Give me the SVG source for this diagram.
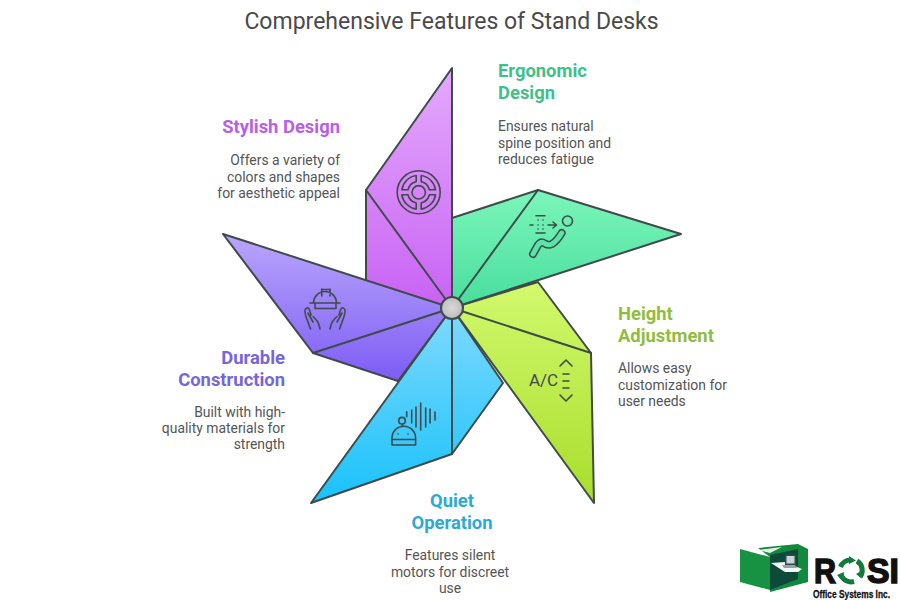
<svg xmlns="http://www.w3.org/2000/svg" width="900" height="600" viewBox="0 0 900 600">
<defs>
<linearGradient id="gP" x1="0" y1="0" x2="0" y2="1"><stop offset="0" stop-color="#e4aafc"/><stop offset="1" stop-color="#c862f4"/></linearGradient>
<linearGradient id="gG" x1="0" y1="0" x2="0" y2="1"><stop offset="0" stop-color="#7cf6ba"/><stop offset="1" stop-color="#48dd9e"/></linearGradient>
<linearGradient id="gL" x1="0" y1="0" x2="0" y2="1"><stop offset="0" stop-color="#d2f96d"/><stop offset="1" stop-color="#a8dd2c"/></linearGradient>
<linearGradient id="gB" x1="0" y1="0" x2="0" y2="1"><stop offset="0" stop-color="#80d9fd"/><stop offset="1" stop-color="#18c2fb"/></linearGradient>
<linearGradient id="gV" x1="0" y1="0" x2="0" y2="1"><stop offset="0" stop-color="#b9a6fb"/><stop offset="1" stop-color="#7d5cf5"/></linearGradient>
<radialGradient id="gC"><stop offset="0" stop-color="#d9d9d9"/><stop offset="1" stop-color="#bdbdbd"/></radialGradient>
<path id="seg" d="M2.500 -16.800A17 17 0 0 1 16.800 -2.500H10.700A11 11 0 0 0 2.500 -10.700Z"/>
<path id="hand" d="M310.500 329L306.500 318Q304 311 305.500 309Q308 306 309.500 310L311 315M308 313L313 322M313 316.500Q318 321 319 325L320 329"/>
</defs>
<style>
.title{font:23px Roboto,"Liberation Sans",sans-serif;fill:#4a4a4a}
.h{font:700 18.400px Roboto,"Liberation Sans",sans-serif}
.b{font:13.900px Roboto,"Liberation Sans",sans-serif;fill:#555}
.e{text-anchor:end}
.m{text-anchor:middle}
.edge{stroke:#3f4a4a;stroke-width:2;stroke-linejoin:round;stroke-linecap:round}
.ic{fill:none;stroke:#3f4a4a;stroke-width:1.600;stroke-linecap:round;stroke-linejoin:round}
.lg{font-family:"Liberation Sans",sans-serif;font-weight:700;fill:#111;stroke:#111}
</style>
<text class="title" x="451.500" y="29" text-anchor="middle">Comprehensive Features of Stand Desks</text>

<g id="stylish-design">
<path class="edge" fill="url(#gP)" d="M452 308V68L366 190V283Z"/>
<path class="edge" fill="none" d="M366 190L452 308"/>
<g class="ic"><circle cx="418.700" cy="192.300" r="21.500"/><circle cx="418.700" cy="192.300" r="6.700"/>
<g transform="translate(418.700 192.300)"><use href="#seg"/><use href="#seg" transform="rotate(90)"/><use href="#seg" transform="rotate(180)"/><use href="#seg" transform="rotate(270)"/></g></g>
<text class="h e" x="340" y="133" fill="#b95ee6">Stylish Design</text>
<text class="b e" x="340" y="165">Offers a variety of</text>
<text class="b e" x="340" y="182">colors and shapes</text>
<text class="b e" x="340" y="198">for aesthetic appeal</text>
</g>

<g id="durable-construction">
<path class="edge" fill="url(#gV)" d="M452 308L223 234L313 353L398 381Z"/>
<path class="edge" fill="none" d="M313 353L452 308"/>
<g class="ic"><path d="M313.500 303A11.500 11.500 0 0 1 336.500 303M310 303H340M315 303V308.500H336V303M321.700 289V296M330 289V296M321.700 289.500H330"/><use href="#hand"/><use href="#hand" transform="matrix(-1 0 0 1 650 0)"/></g>
<text class="h e" x="285" y="364" fill="#7566dd">Durable</text>
<text class="h e" x="285" y="386" fill="#7566dd">Construction</text>
<text class="b e" x="285" y="417">Built with high-</text>
<text class="b e" x="285" y="433">quality materials for</text>
<text class="b e" x="285" y="449">strength</text>
</g>

<g id="quiet-operation">
<path class="edge" fill="url(#gB)" d="M452 308L311 503L452 454L503 383Z"/>
<path class="edge" fill="none" d="M452 308V454"/>
<g class="ic"><path d="M392 445V438A11.800 11.800 0 0 1 415.600 438V445ZM392 439.500H415.600M398 434H398.100M408 434H408.100"/><circle cx="402" cy="420.700" r="3.300"/><path d="M402.500 424V426.500M406.700 411.700V416.700M411.700 410V423M416 407V427M420.700 403V430M425.700 408V427M430 409V423M435 412V420"/></g>
<text class="h m" x="452" y="507" fill="#2ea9d4">Quiet</text>
<text class="h m" x="452" y="529" fill="#2ea9d4">Operation</text>
<text class="b m" x="450" y="560">Features silent</text>
<text class="b m" x="450" y="577">motors for discreet</text>
<text class="b m" x="450" y="593">use</text>
</g>

<g id="height-adjustment">
<path class="edge" fill="url(#gL)" d="M452 308L594 503L591 353L538 282Z"/>
<path class="edge" fill="none" d="M452 308L591 353"/>
<text x="529" y="386" style="font:17px Roboto,'Liberation Sans',sans-serif;fill:#3f4a4a">A/C</text>
<path class="ic" d="M560 366L566 360L572 366M563 374H569M563 381H569M563 388H569M560 395L566 401L572 395"/>
<text class="h" x="618" y="320" fill="#90bd40">Height</text>
<text class="h" x="618" y="342" fill="#90bd40">Adjustment</text>
<text class="b" x="618" y="373">Allows easy</text>
<text class="b" x="618" y="390">customization for</text>
<text class="b" x="618" y="406">user needs</text>
</g>

<g id="ergonomic-design">
<path class="edge" fill="url(#gG)" d="M452 308L681 234L538 190L452 218Z"/>
<path class="edge" fill="none" d="M452 308L538 190"/>
<g class="ic"><circle cx="567.500" cy="221" r="5"/><path d="M536 215.700H545M536 233H545M538 220H538.100M543 220H543.100M538 225H538.100M543 225H543.100M538 229H538.100M543 229H543.100M530 225H533M548 225H556M553 222L556.500 225L553 228"/>
<path d="M533 254L538 245Q541 241 544 243Q548 246 552 244Q557 241 561.700 233" stroke-width="8"/><path d="M533 254L538 245Q541 241 544 243Q548 246 552 244Q557 241 561.700 233" stroke="#57e6a8" stroke-width="5"/></g>
<text class="h" x="498" y="77" fill="#3fc08a">Ergonomic</text>
<text class="h" x="498" y="99" fill="#3fc08a">Design</text>
<text class="b" x="498" y="131">Ensures natural</text>
<text class="b" x="498" y="148">spine position and</text>
<text class="b" x="498" y="164">reduces fatigue</text>
</g>

<g id="hub"><circle class="edge" cx="452" cy="308" r="11" fill="url(#gC)"/></g>

<g id="logo">
<path d="M758 548L798 544L808 549V582L770 592V557Z" fill="#128a3e"/>
<path d="M770 555L798 549V579L770 590Z" fill="#0e4a3a"/>
<path d="M758 550L782 547L770 553Z" fill="#e6f2e6"/>
<path d="M771 563L785 562L802 569L798 572L785 572Z" fill="#f4f6f4"/>
<path d="M785 554.500H796V565H785Z" fill="#37474f"/>
<path d="M786.500 556H794.500V563.500H786.500Z" fill="#c9d6da"/>
<path d="M782 565H795L797 568H784Z" fill="#90a4ae"/>
<path d="M740 549L770 557V590L740 582Z" fill="#179243"/>
<text class="lg" x="814" y="583" font-size="35" stroke-width="1.500" textLength="22" lengthAdjust="spacingAndGlyphs">R</text>
<g fill="none" stroke="#127a3a" stroke-width="5"><path d="M840.500 567A11 11 0 0 1 851 560"/><path d="M857 561A11 11 0 0 1 860 577"/><path d="M854 581.500A11 11 0 0 1 841 575"/></g>
<path d="M849 556L856 560.500L849 564ZM863 570L861 578L856 574ZM843 581L837 575L844 572Z" fill="#127a3a"/>
<text class="lg" x="867" y="583" font-size="35" stroke-width="1.500" textLength="32" lengthAdjust="spacingAndGlyphs">SI</text>
<text class="lg" font-size="11" stroke-width=".3" transform="translate(813 597.500) scale(.76 1)">Office Systems Inc.</text>
</g>
</svg>
